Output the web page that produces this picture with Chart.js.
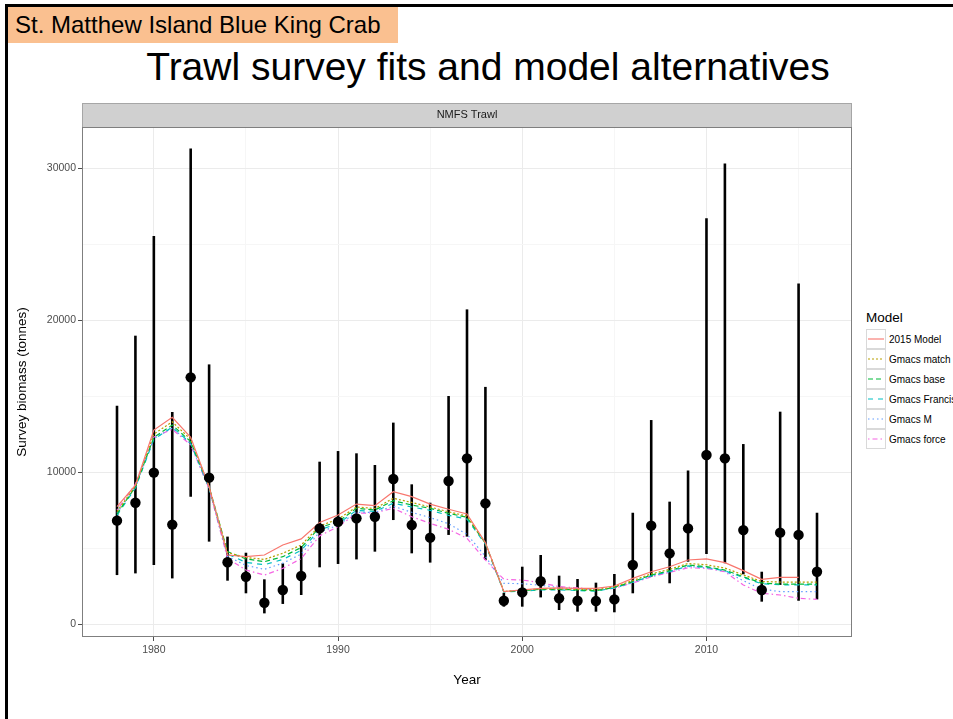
<!DOCTYPE html>
<html>
<head>
<meta charset="utf-8">
<title>Trawl survey fits and model alternatives</title>
<script src="https://cdn.jsdelivr.net/npm/chart.js@4.4.1/dist/chart.umd.min.js"></script>
<style>
  html, body { margin: 0; padding: 0; width: 953px; height: 719px; overflow: hidden; background: #fff; font-family: "Liberation Sans", Arial, sans-serif; }
  .frame { position: absolute; left: 5px; top: 4px; width: 980px; height: 740px; border-left: 3px solid #000; border-top: 3px solid #000; }
  .tag { position: absolute; left: 8px; top: 7px; width: 390px; height: 36px; background: #FAC090; color: #000; font-size: 24px; line-height: 36px; padding-left: 7px; box-sizing: border-box; white-space: nowrap; }
  .title { position: absolute; left: 0; top: 45px; width: 976px; text-align: center; font-size: 39px; line-height: 44px; color: #000; white-space: nowrap; }
  #wrap { position: absolute; left: 0; top: 0; width: 860px; height: 719px; }
  .legend { position: absolute; left: 866px; top: 308px; white-space: nowrap; }
  .legend .head { font-size: 13.5px; line-height: 20px; margin-bottom: 1px; }
  .legend .row { height: 20px; display: flex; align-items: center; }
  .legend svg { display: block; margin-right: 3px; }
  .legend span { font-size: 10px; color: #000; }
</style>
</head>
<body>
<div class="frame"></div>
<div class="tag">St. Matthew Island Blue King Crab</div>
<div class="title">Trawl survey fits and model alternatives</div>
<div id="wrap"><canvas id="fitChart" width="860" height="719"></canvas></div>
<div class="legend" id="legend"></div>

<script>
const years = [1978, 1979, 1980, 1981, 1982, 1983, 1984, 1985, 1986, 1987,
    1988, 1989, 1990, 1991, 1992, 1993, 1994, 1995, 1996, 1997,
    1998, 1999, 2000, 2001, 2002, 2003, 2004, 2005, 2006, 2007,
    2008, 2009, 2010, 2011, 2012, 2013, 2014, 2015, 2016];

// survey index and its interval (tonnes)
const obsBiomass = [6800, 7980, 9960, 6540, 16230, 9630, 4060, 3110, 1400, 2240,
    3160, 6290, 6730, 6950, 7060, 9540, 6510, 5680, 9410, 10900,
    7940, 1530, 2080, 2810, 1690, 1530, 1510, 1620, 3880, 6470,
    4650, 6290, 11120, 10900, 6180, 2240, 6010, 5860, 3440];
const obsLower = [3220, 3330, 3880, 3000, 8380, 5420, 2850, 2020, 700, 1320,
    1910, 3730, 3950, 4250, 4760, 6840, 4650, 4040, 5860, 5750,
    4210, 1140, 1140, 1750, 920, 810, 810, 770, 2020, 3110,
    2680, 4100, 4600, 3990, 3270, 1470, 2570, 1530, 1620];
const obsUpper = [14360, 18970, 25530, 13950, 31290, 17080, 5750, 4690, 2940, 3990,
    5130, 10680, 11380, 11230, 10460, 13250, 9190, 7980, 15000, 20700,
    15600, 2050, 3770, 4540, 3180, 2960, 2720, 3290, 7320, 13420,
    8050, 10100, 26700, 30300, 11840, 3440, 13970, 22400, 7320];

// model fits
const fit2015 = [7720, 9140, 12760, 13600, 12280, 9030, 4540, 4430, 4540, 5200,
    5600, 6680, 7170, 7890, 7790, 8700, 8380, 7890, 7550, 7240,
    5350, 2130, 2250, 2350, 2380, 2350, 2350, 2500, 3000, 3440,
    3770, 4210, 4280, 4040, 3510, 2940, 3070, 3070, null];
const fitMatch = [7400, 9080, 12500, 13300, 12150, 9050, 4700, 4380, 4250, 4650,
    5200, 6450, 6900, 7700, 7600, 8270, 8000, 7700, 7380, 7100,
    5330, 2150, 2220, 2310, 2310, 2280, 2250, 2440, 2860, 3300,
    3600, 3980, 3900, 3680, 3230, 2800, 2760, 2760, 2760];
const fitBase = [7240, 9030, 12280, 13090, 12000, 9030, 4760, 4280, 4100, 4430,
    5030, 6350, 6730, 7610, 7500, 8110, 7830, 7610, 7280, 7020,
    5310, 2130, 2190, 2280, 2280, 2240, 2190, 2410, 2790, 3220,
    3510, 3880, 3770, 3550, 3110, 2700, 2630, 2630, 2630];
const fitFrancis = [7150, 8950, 12150, 12950, 11900, 8950, 4600, 4050, 3900, 4250,
    4850, 6200, 6600, 7480, 7400, 7950, 7700, 7480, 7150, 6900,
    5250, 2100, 2160, 2250, 2250, 2200, 2160, 2380, 2750, 3170,
    3450, 3820, 3720, 3500, 3060, 2650, 2580, 2580, 2580];
const fitM = [7300, 9000, 12200, 12900, 11850, 8900, 4450, 3850, 3600, 4000,
    4600, 6050, 6500, 7350, 7350, 7750, 7350, 7000, 6600, 5900,
    4450, 2680, 2650, 2550, 2400, 2320, 2250, 2380, 2720, 3150,
    3450, 3780, 3700, 3480, 2850, 2300, 2130, 2130, 2130];
const fitForce = [7500, 9200, 12300, 12810, 11780, 8900, 4320, 3550, 3220, 3660,
    4300, 5800, 6400, 7280, 7320, 7610, 7060, 6620, 6230, 5640,
    4210, 2940, 2890, 2720, 2460, 2380, 2250, 2350, 2700, 3100,
    3400, 3700, 3660, 3440, 2570, 2020, 1910, 1690, 1620];

const modelNames = ['2015 Model', 'Gmacs match', 'Gmacs base', 'Gmacs Francis', 'Gmacs M', 'Gmacs force'];
const modelFits = [fit2015, fitMatch, fitBase, fitFrancis, fitM, fitForce];

// labelled breaks, and all grid positions (minor lines in between)
const xTicks = [1980, 1990, 2000, 2010];
const yTicks = [0, 10000, 20000, 30000];
const xGrid = [1980, 1985, 1990, 1995, 2000, 2005, 2010, 2015];
const yGrid = [0, 5000, 10000, 15000, 20000, 25000, 30000];

// ggplot default hues and linetypes
const modelColors = ['#F8766D', '#B79F00', '#00BA38', '#00BFC4', '#619CFF', '#F564E3'];
const modelDashes = [[], [2, 2], [5, 3], [5, 5], [1.5, 3], [1.5, 3, 5, 3]];

const tickFont = { family: '"Liberation Sans", Arial, sans-serif', size: 10.5 };
const titleFont = { family: '"Liberation Sans", Arial, sans-serif', size: 13.5 };

const toPoints = arr => years.map((yr, i) => ({ x: yr, y: arr[i] }));

// facet strip + panel border
const panelFrame = {
    id: 'panelFrame',
    beforeDraw(chart) {
        const { ctx, chartArea: a } = chart;
        ctx.save();
        ctx.fillStyle = '#D0D0D0';
        ctx.fillRect(a.left, a.top - 24, a.width, 24);
        ctx.strokeStyle = '#A6A6A6';
        ctx.lineWidth = 1;
        ctx.strokeRect(a.left + 0.5, a.top - 23.5, a.width - 1, 24);
        ctx.fillStyle = '#1A1A1A';
        ctx.font = '11px ' + tickFont.family;
        ctx.textAlign = 'center';
        ctx.textBaseline = 'middle';
        ctx.fillText('NMFS Trawl', (a.left + a.right) / 2, a.top - 12);
        ctx.restore();
    },
    afterDraw(chart) {
        const { ctx, chartArea: a } = chart;
        ctx.save();
        ctx.strokeStyle = '#7F7F7F';
        ctx.lineWidth = 1;
        ctx.strokeRect(a.left + 0.5, a.top + 0.5, a.width - 1, a.height - 1);
        ctx.restore();
    }
};

// vertical interval through each survey point
const errorBars = {
    id: 'errorBars',
    beforeDatasetsDraw(chart) {
        const { ctx, chartArea: a, scales: { x, y } } = chart;
        ctx.save();
        ctx.beginPath();
        ctx.rect(a.left, a.top, a.width, a.height);
        ctx.clip();
        ctx.strokeStyle = '#000';
        ctx.lineWidth = 2.6;
        years.forEach((yr, i) => {
            const px = x.getPixelForValue(yr);
            ctx.beginPath();
            ctx.moveTo(px, y.getPixelForValue(obsLower[i]));
            ctx.lineTo(px, y.getPixelForValue(obsUpper[i]));
            ctx.stroke();
        });
        ctx.restore();
    }
};

const datasets = modelNames.map((name, k) => ({
    label: name,
    data: toPoints(modelFits[k]),
    borderColor: modelColors[k],
    borderDash: modelDashes[k],
    borderWidth: 1.2,
    pointRadius: 0,
    fill: false,
    tension: 0,
    order: 2
}));

datasets.push({
    label: 'Survey',
    data: toPoints(obsBiomass),
    showLine: false,
    pointRadius: 5.2,
    pointBackgroundColor: '#000',
    pointBorderColor: '#000',
    pointBorderWidth: 0,
    order: 0
});

const isMajor = (list, v) => list.includes(v);
const gridColor = list => c => isMajor(list, c.tick && c.tick.value) ? '#EBEBEB' : '#F6F6F6';
const tickColor = list => c => isMajor(list, c.tick && c.tick.value) ? '#4D4D4D' : 'rgba(0,0,0,0)';

new Chart(document.getElementById('fitChart'), {
    type: 'line',
    data: { datasets: datasets },
    options: {
        responsive: false,
        animation: false,
        devicePixelRatio: 1,
        layout: { padding: { top: 127, right: 8, left: 0, bottom: 0 } },
        plugins: {
            legend: { display: false },
            tooltip: { enabled: false }
        },
        scales: {
            x: {
                type: 'linear',
                min: 1976.1,
                max: 2017.9,
                afterBuildTicks(s) { s.ticks = xGrid.map(v => ({ value: v })); },
                afterFit(s) { s.height = 82; },
                border: { display: false },
                grid: { color: gridColor(xTicks), tickColor: tickColor(xTicks), tickLength: 4 },
                ticks: {
                    autoSkip: false,
                    maxRotation: 0,
                    padding: 3,
                    color: '#4D4D4D',
                    font: tickFont,
                    callback: v => isMajor(xTicks, v) ? String(v) : ''
                },
                title: {
                    display: true,
                    text: 'Year',
                    color: '#000',
                    font: titleFont,
                    padding: { top: 0, bottom: 31 }
                }
            },
            y: {
                type: 'linear',
                min: -855,
                max: 32700,
                afterBuildTicks(s) { s.ticks = yGrid.map(v => ({ value: v })); },
                afterFit(s) { s.width = 82; },
                border: { display: false },
                grid: { color: gridColor(yTicks), tickColor: tickColor(yTicks), tickLength: 4 },
                ticks: {
                    autoSkip: false,
                    padding: 2,
                    color: '#4D4D4D',
                    font: tickFont,
                    callback: v => isMajor(yTicks, v) ? String(v) : ''
                },
                title: {
                    display: true,
                    text: 'Survey biomass (tonnes)',
                    color: '#000',
                    font: titleFont,
                    padding: { top: 14, bottom: 0 }
                }
            }
        }
    },
    plugins: [panelFrame, errorBars]
});

// legend keys drawn as small line swatches
const legendEl = document.getElementById('legend');
legendEl.innerHTML = '<div class="head">Model</div>' + modelNames.map((name, k) =>
    '<div class="row"><svg width="20" height="20">' +
    '<rect x="0.5" y="0.5" width="19" height="19" fill="#fff" stroke="#D9D9D9"/>' +
    '<line x1="2" y1="10" x2="18" y2="10" stroke="' + modelColors[k] + '" stroke-width="1.1"' +
    (modelDashes[k].length ? ' stroke-dasharray="' + modelDashes[k].join(',') + '"' : '') + '/>' +
    '</svg><span>' + name + '</span></div>').join('');
</script>
</body>
</html>
